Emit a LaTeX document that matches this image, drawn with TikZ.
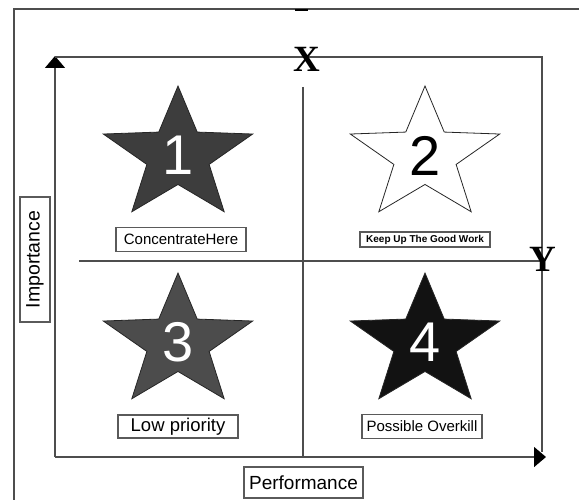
\documentclass[tikz,border=0pt]{standalone}
\usepackage{fontspec}
\setmainfont{Liberation Sans}
\newfontfamily\axisfont{Liberation Serif}
\usetikzlibrary{shapes.geometric,arrows.meta}
\definecolor{axisgray}{HTML}{4d4d4d}
\definecolor{boxgray}{HTML}{5a5a5a}
\begin{document}
\begin{tikzpicture}[x=1pt,y=-1pt,node distance=84pt,auto]
	\tikzstyle{starbox} = [star,star points=5,star point ratio=2.4,minimum size=139pt,
	inner sep=0pt,xscale=1.13,draw=black!85,line width=0.8pt]
	\tikzstyle{digit} = [inner sep=0pt,font=\fontsize{56}{56}\selectfont]
	\tikzstyle{tag} = [rectangle,draw=boxgray,line width=1.4pt,inner sep=0pt,text centered,fill=white]
	\tikzstyle{axis} = [draw=axisgray,line width=1.5pt]
	\tikzstyle{axistip} = [-{Triangle[width=20pt,length=12pt,color=black,fill=black]}]
	\useasboundingbox (0,0) rectangle (579,500);
	% outer frame
	\draw[axis] (14,500) -- (14,9) -- (579,9);
	\draw[line width=2pt] (295,10.5) -- (308,10.5);
	% axes
	\coordinate (origin) at (55,457);
	\coordinate (top) at (55,56);
	\coordinate (topright) at (542,57);
	\coordinate (corner) at (542,452);
	\coordinate (tip) at (546,457);
	\draw[axis,axistip] (origin) -- (top);
	\draw[axis,axistip] (origin) -- (tip);
	\draw[axis] (55,57) -- (topright) -- (corner);
	\draw[axis] (303,87) -- (303,457);
	\draw[axis] (79,261) -- (542,261);
	\node (xlabel) at (307,59) {\fontsize{37}{37}\selectfont\axisfont\bfseries X};
	\node (ylabel) at (543,259) {\fontsize{37}{37}\selectfont\axisfont\bfseries Y};
	% stars
	\node (star1) [starbox,fill=black!76] at (178,155.5) {};
	\node (star2) [starbox,fill=white] at (425,155.5) {};
	\node (star3) [starbox,fill=black!70] at (178,342.5) {};
	\node (star4) [starbox,fill=black!93] at (425,342.5) {};
	\node (num1) [digit,white] at (star1) {1};
	\node (num2) [digit,black] at (star2) {2};
	\node (num3) [digit,white] at (star3) {3};
	\node (num4) [digit,white] at (star4) {4};
	% labels
	\node (lab1) [tag,below of=star1,xshift=3pt,minimum width=130pt,minimum height=24pt,
	font=\fontsize{15}{15}\selectfont] {ConcentrateHere};
	\node (lab2) [tag,below of=star2,minimum width=130pt,minimum height=15pt,
	font=\fontsize{10}{10}\selectfont\bfseries] {Keep Up The Good Work};
	\node (lab3) [tag,below of=star3,minimum width=120pt,minimum height=23pt,
	font=\fontsize{18.5}{18.5}\selectfont] {Low priority};
	\node (lab4) [tag,below of=star4,xshift=-3pt,minimum width=120pt,minimum height=24pt,
	font=\fontsize{15}{15}\selectfont] {Possible Overkill};
	\node (perf) [tag,minimum width=119pt,minimum height=31pt,
	font=\fontsize{19}{19}\selectfont] at (303.5,482.5) {Performance};
	\node (imp) [tag,rotate=90,minimum width=125pt,minimum height=30pt,
	font=\fontsize{19.5}{19.5}\selectfont] at (35,259.5) {Importance};
\end{tikzpicture}
\end{document}
